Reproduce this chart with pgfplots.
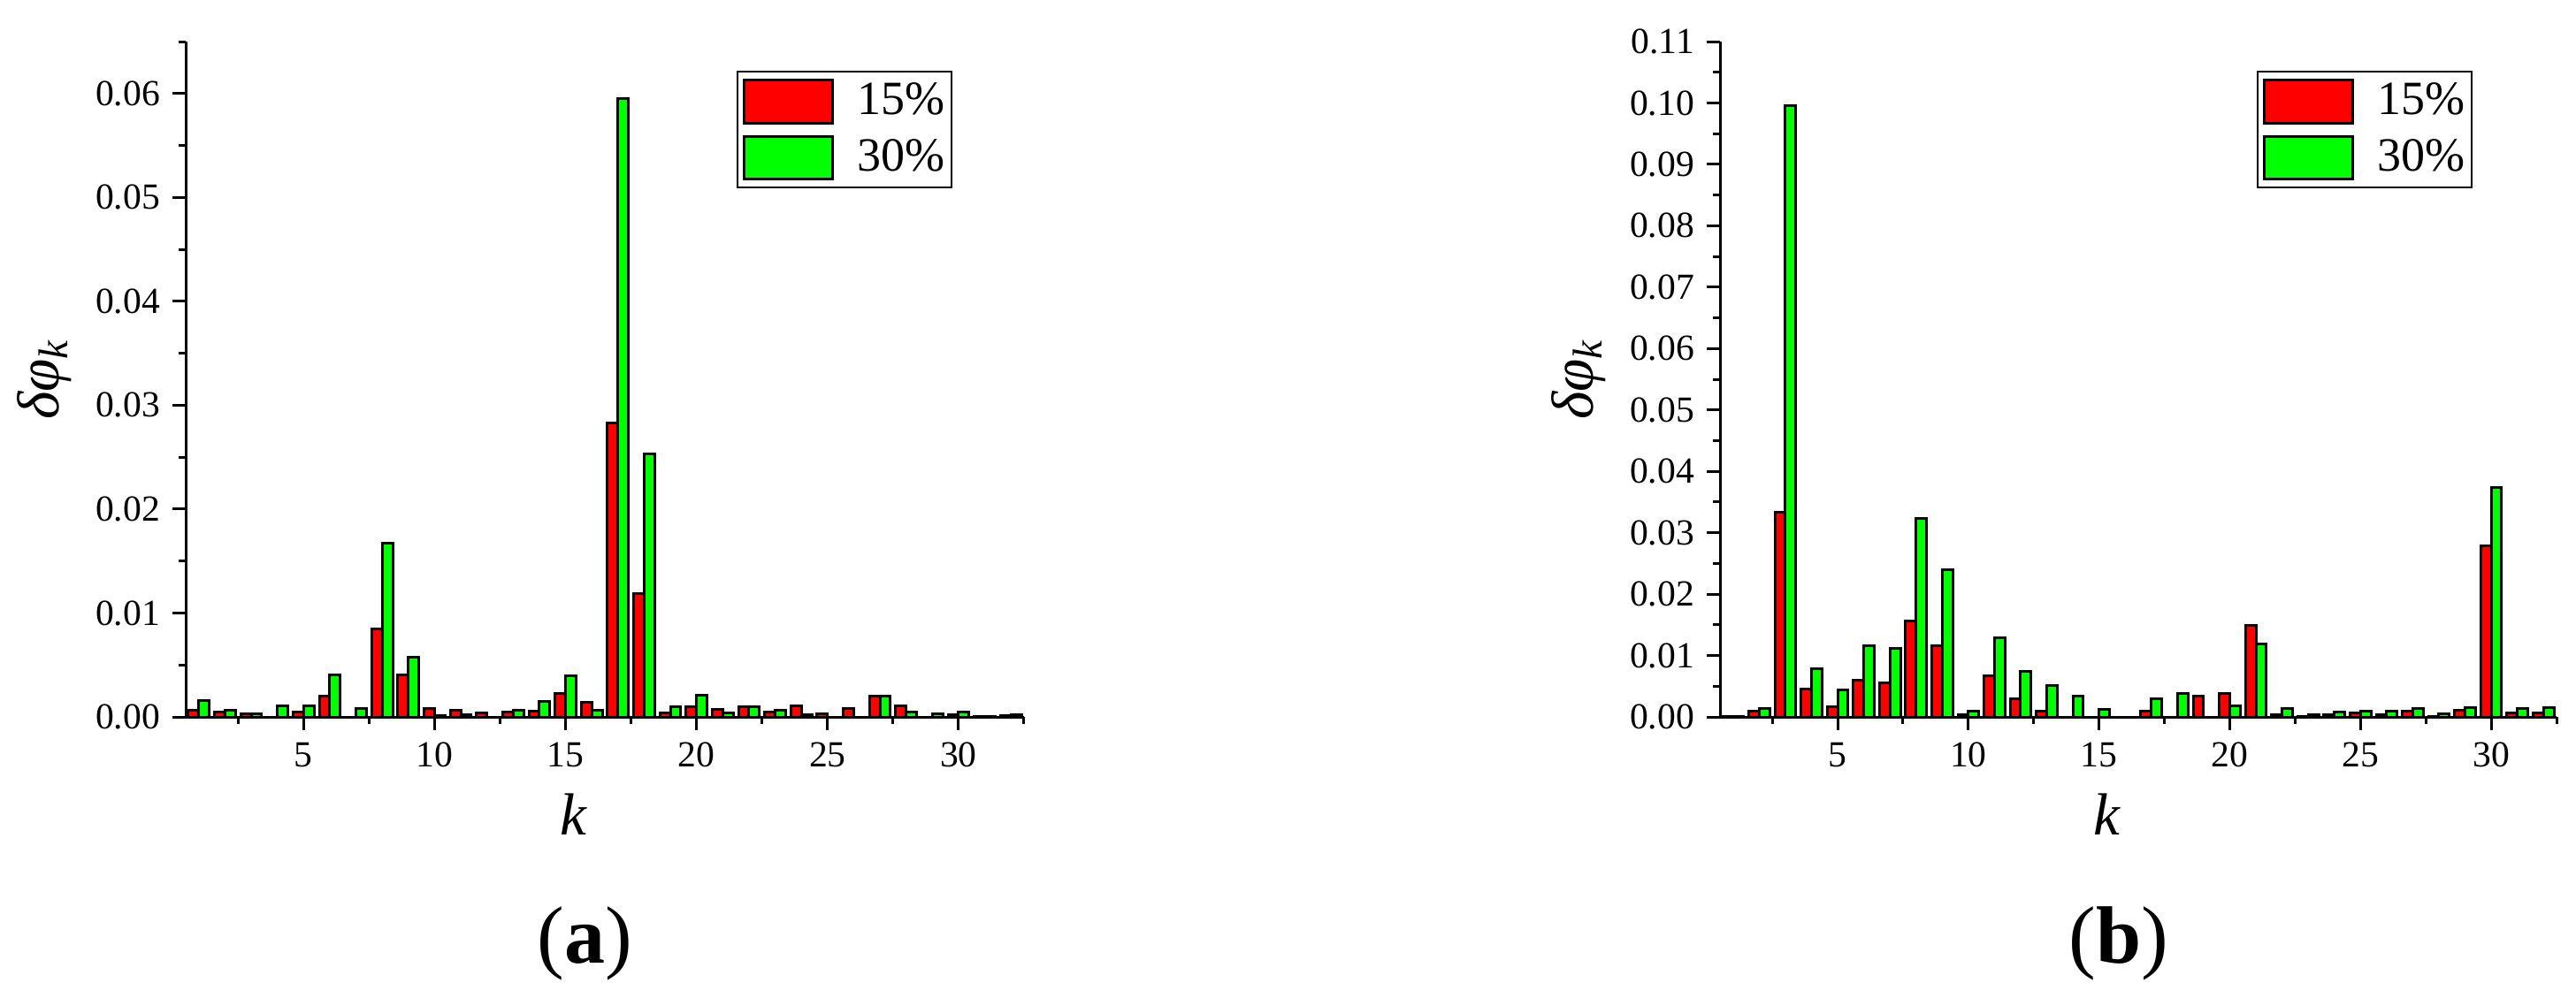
\documentclass[border=0pt]{standalone}
\usepackage{fontspec}
\setmainfont{Liberation Serif}
\usepackage{pgfplots}
\usepackage{pgfplotstable}
\pgfplotsset{compat=1.18}

\pgfplotstableread{
k v
1 0.00068
2 0.00048
3 0.00034
4 0
5 0.00048
6 0.0020
7 0
8 0.00844
9 0.00403
10 0.00085
11 0.0006
12 0.0004
13 0.00043
14 0.00054
15 0.00227
16 0.00139
17 0.0283
18 0.0119
19 0.00037
20 0.00094
21 0.00071
22 0.00102
23 0.00045
24 0.00108
25 0.00034
26 0.00085
27 0.0020
28 0.00108
29 0
30 0.00023
31 0.00005
32 0.0001
}\leftred
\pgfplotstableread{
k v
1 0.0016
2 0.00068
3 0.00034
4 0.00105
5 0.00105
6 0.0040
7 0.00085
8 0.01676
9 0.00577
10 0.00014
11 0.00023
12 0
13 0.0006
14 0.00148
15 0.00392
16 0.00068
17 0.0595
18 0.0253
19 0.00094
20 0.00207
21 0.00037
22 0.00102
23 0.00068
24 0.0002
25 0
26 0
27 0.0020
28 0.0005
29 0.00034
30 0.00048
31 0.00005
32 0.0002
}\leftgreen
\pgfplotstableread{
k v
1 0.0001
2 0.0009
3 0.0333
4 0.00447
5 0.00159
6 0.0060
7 0.00558
8 0.01563
9 0.01159
10 0.0003
11 0.00668
12 0.00298
13 0.00087
14 0
15 0
16 0
17 0.00096
18 0
19 0.00341
20 0.00385
21 0.01486
22 0.0004
23 0.0001
24 0.0003
25 0.00058
26 0.00029
27 0.001
28 0.0001
29 0.0011
30 0.0279
31 0.0006
32 0.00068
}\rightred
\pgfplotstableread{
k v
1 0.0001
2 0.00144
3 0.0995
4 0.00784
5 0.00438
6 0.01159
7 0.0112
8 0.0323
9 0.02394
10 0.00096
11 0.01288
12 0.00745
13 0.00505
14 0.00341
15 0.0012
16 0
17 0.00293
18 0.00375
19 0
20 0.00173
21 0.01188
22 0.00144
23 0.0003
24 0.00077
25 0.001
26 0.001
27 0.0013
28 0.00053
29 0.0015
30 0.0373
31 0.00134
32 0.00154
}\rightgreen

\definecolor{barred}{RGB}{255,0,0}
\definecolor{bargreen}{RGB}{0,255,0}

\pgfplotsset{
  mybars/.style={
    scale only axis, width=237pt, height=191pt,
    anchor=south west,
    axis x line*=bottom, axis y line*=left,
    axis line style={line width=0.75pt, black},
    xmin=0.5, xmax=32.5, ymin=0,
    xtick={5,10,15,20,25,30},
    minor xtick={2.5,7.5,12.5,17.5,22.5,27.5,32.5},
    tick align=outside,
    major tick length=3.75pt, minor tick length=2pt,
    tick style={line width=0.75pt, black},
    ybar=0pt, bar width=0.4,
    /pgf/number format/assume math mode=true,
    tick label style={font=\fontsize{10.4}{12}\selectfont},
    scaled y ticks=false,
    yticklabel style={/pgf/number format/fixed, /pgf/number format/fixed zerofill, /pgf/number format/precision=2},
    xlabel={\itshape k},
    xlabel style={at={(axis description cs:0.462,-0.1126)}, anchor=north, inner sep=0pt, font=\fontsize{16.8}{20}\selectfont},
    ylabel={\itshape δφ\textsubscript{k}},
    ylabel style={font=\fontsize{16.8}{20}\selectfont},
    legend style={at={(0.9146,0.957)}, anchor=north east, draw=black, line width=0.5pt,
      font=\fontsize{13.5}{16}\selectfont, inner xsep=1.5pt, inner ysep=2pt, row sep=3pt,
      nodes={inner sep=0.5pt},
      /tikz/every odd column/.append style={column sep=6pt}},
    legend cell align=left,
  },
  redbar/.style={fill=barred, draw=black, line width=0.75pt, bar shift=-0.2,
    legend image code/.code={\draw[fill=barred, draw=black, line width=0.75pt] (0pt,-6.1pt) rectangle (25pt,6.1pt);}},
  greenbar/.style={fill=bargreen, draw=black, line width=0.75pt, bar shift=0.2,
    legend image code/.code={\draw[fill=bargreen, draw=black, line width=0.75pt] (0pt,-6.1pt) rectangle (25pt,6.1pt);}},
}

\begin{document}
\begin{tikzpicture}
\useasboundingbox (0,0) rectangle (728.25pt,282pt);
\begin{axis}[mybars, at={(52.5pt,79.25pt)},
  ymax=0.065,
  ytick={0,0.01,0.02,0.03,0.04,0.05,0.06},
  minor ytick={0.005,0.015,0.025,0.035,0.045,0.055,0.065},
]
\addplot[redbar] table[x=k,y=v] {\leftred};
\addplot[greenbar] table[x=k,y=v] {\leftgreen};
\legend{15\%,30\%}
\end{axis}
\begin{axis}[mybars, at={(486.25pt,79.25pt)}, width=236.5pt,
  ymax=0.11,
  ytick={0,0.01,0.02,0.03,0.04,0.05,0.06,0.07,0.08,0.09,0.10,0.11},
  minor ytick={0.005,0.015,0.025,0.035,0.045,0.055,0.065,0.075,0.085,0.095,0.105},
  legend style={at={(0.9,0.957)}},
]
\addplot[redbar] table[x=k,y=v] {\rightred};
\addplot[greenbar] table[x=k,y=v] {\rightgreen};
\legend{15\%,30\%}
\end{axis}
\node[font=\fontsize{23}{27}\selectfont] at (165.25pt,15.25pt) {(\textbf{a})};
\node[font=\fontsize{23}{27}\selectfont] at (599pt,15.25pt) {(\textbf{b})};
\end{tikzpicture}
\end{document}
